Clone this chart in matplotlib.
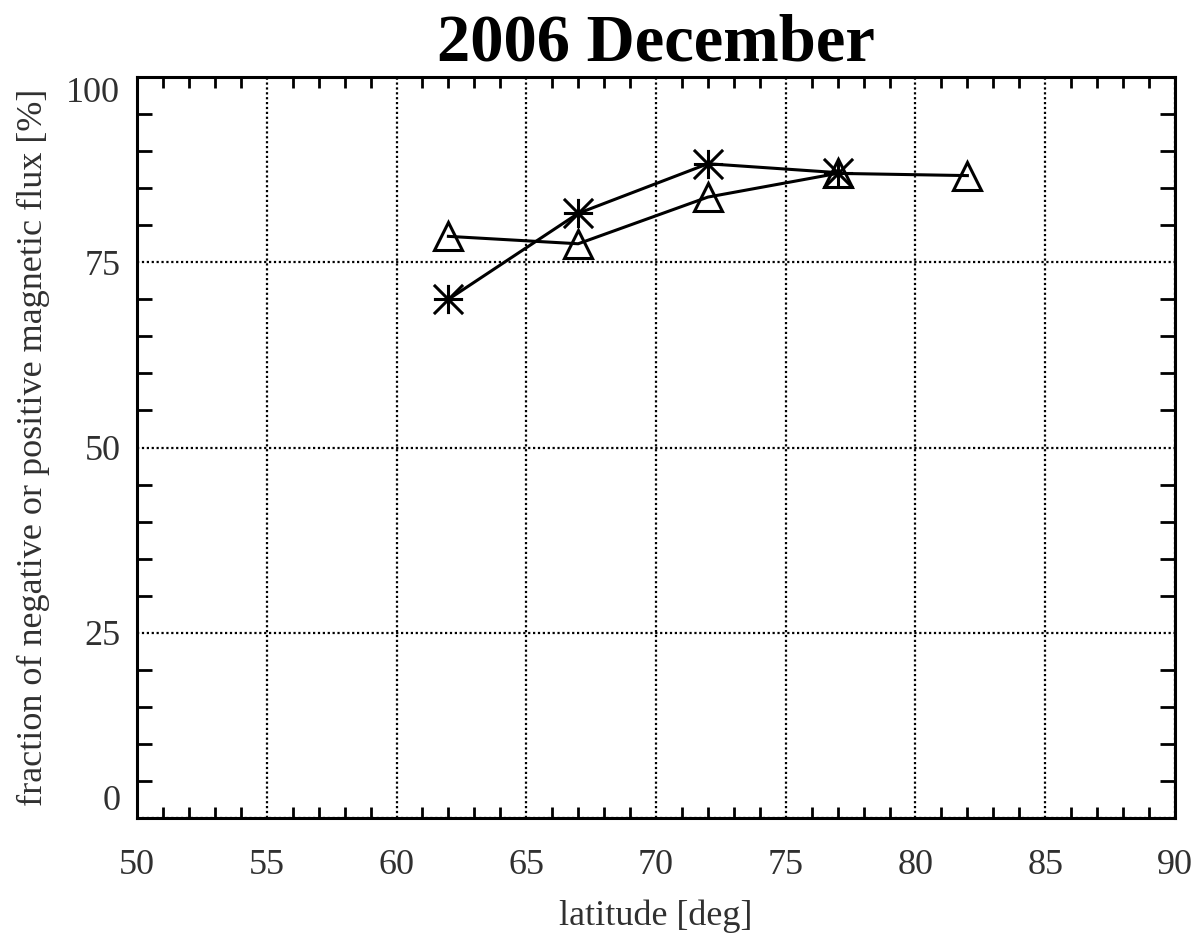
import matplotlib
matplotlib.use('Agg')
import matplotlib.pyplot as plt
from matplotlib.path import Path
from matplotlib.ticker import MultipleLocator

# data
lat_star = [62, 67, 72, 77]
frac_star = [70.0, 81.6, 88.3, 87.1]
lat_tri = [62, 67, 72, 77, 82]
frac_tri = [78.5, 77.5, 83.8, 87.0, 86.7]

xlim = (50, 90)
ylim = (0, 100)
xticks = [50, 55, 60, 65, 70, 75, 80, 85, 90]
yticks = [0, 25, 50, 75, 100]

plt.rcParams['font.family'] = ['Liberation Serif', 'DejaVu Serif']

# IDL style asterisk: plus and cross inside a square
asterisk = Path([(-1, 0), (1, 0), (0, -1), (0, 1), (-1, -1), (1, 1), (-1, 1), (1, -1)],
                [Path.MOVETO, Path.LINETO] * 4)

fig = plt.figure(figsize=(12.03, 9.35), dpi=100)
ax = fig.add_axes([0.1139, 0.1251, 0.8628, 0.7925])

ax.plot(lat_star, frac_star, color='black', lw=2.2, marker=asterisk,
        markersize=21, markeredgewidth=2.2, zorder=3)
ax.plot(lat_tri, frac_tri, color='black', lw=2.2, marker='^',
        markersize=20.5, markerfacecolor='none', markeredgewidth=2.2, zorder=3)

ax.set_xlim(*xlim)
ax.set_ylim(*ylim)
ax.set_xticks(xticks)
ax.set_yticks(yticks)
ax.xaxis.set_minor_locator(MultipleLocator(1))
ax.yaxis.set_minor_locator(MultipleLocator(5))

ax.grid(True, which='major', color='black', linestyle=(0, (1, 1.2)), lw=1.6)
ax.tick_params(which='major', length=0, labelsize=26, labelcolor='#303030')
ax.tick_params(axis='x', which='major', pad=22)
ax.tick_params(axis='y', which='major', pad=12)
ax.tick_params(axis='x', which='minor', direction='in', length=8, width=2,
               top=True, bottom=True)
ax.tick_params(axis='y', which='minor', direction='in', length=11, width=2,
               left=True, right=True)

ylabels = ax.get_yticklabels()
ylabels[0].set_verticalalignment('bottom')
ylabels[-1].set_verticalalignment('top')

for sp in ax.spines.values():
    sp.set_linewidth(2.2)
    sp.set_zorder(4)

ax.set_xlabel('latitude [deg]', fontsize=26, color='#303030', labelpad=13)
ax.set_ylabel('fraction of negative or positive magnetic flux [%]',
              fontsize=26, color='#303030', labelpad=12)
ax.set_title('2006 December', fontsize=48, fontweight='bold', pad=12)

fig.savefig('out.png', dpi=100)
